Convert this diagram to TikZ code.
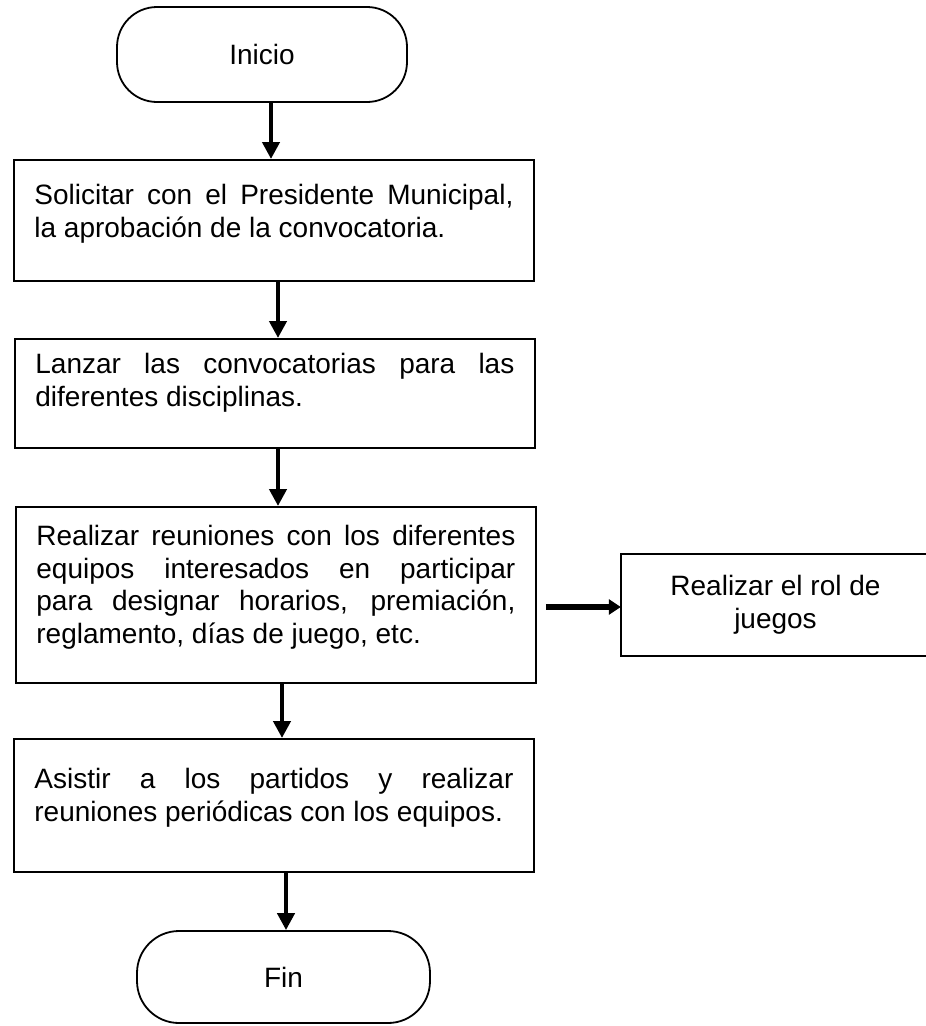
\documentclass[tikz,border=0pt]{standalone}
\usepackage{fontspec}
\setmainfont{Liberation Sans}
\usetikzlibrary{arrows.meta,calc}
\tikzset{
  basefont/.style={font=\fontsize{28}{32.5}\selectfont},
  mainbox/.style={basefont, draw, line width=1.8pt, anchor=north west,
    text width=479pt, inner xsep=20.5pt, inner ysep=0pt, align=justify},
  terminal/.style={basefont, draw, line width=1.8pt, rounded corners=40pt,
    inner sep=0pt, align=center},
  sidebox/.style={basefont, inner sep=0pt,
    align=center, minimum width=309pt, minimum height=102pt},
  boxline/.style={line width=1.8pt},
  varrow/.style={line width=4.2pt, -{Triangle[length=17pt,width=17pt]}},
  harrow/.style={line width=6pt, -{Triangle[length=12pt,width=15pt]}}
}
\begin{document}
\begin{tikzpicture}[x=1pt,y=-1pt]
\useasboundingbox[fill=white] (0,0) rectangle (926,1026);

\node[terminal, minimum width=290pt, minimum height=95pt] (ini) at (262,54.5) {Inicio};

\node[mainbox, text height=45pt, text depth=76pt] (b1) at (13,159)
  {Solicitar con el Presidente Municipal,\linebreak la aprobación de la convocatoria.};

\node[mainbox, text height=35pt, text depth=74pt] (b2) at (14,338)
  {Lanzar las convocatorias para las\linebreak diferentes disciplinas.};

\node[mainbox, text height=39pt, text depth=137pt] (b3) at (15,506)
  {Realizar reuniones con los diferentes\linebreak equipos interesados en participar\linebreak para designar horarios, premiación,\linebreak reglamento, días de juego, etc.};

\node[sidebox] (side) at (775.5,605) {Realizar el rol de\\juegos};
\draw[boxline] ($(side.south east)+(30,0)$) -- (side.south west) -- (side.north west) -- ($(side.north east)+(30,0)$);

\node[mainbox, text height=50pt, text depth=83pt] (b4) at (13,738)
  {Asistir a los partidos y realizar\linebreak reuniones periódicas con los equipos.};

\node[terminal, rounded corners=42pt, minimum width=293pt, minimum height=92pt] (fin) at (283.5,977) {Fin};

\coordinate (x1) at (271,0);
\coordinate (x2) at (278,0);
\coordinate (x3) at (278,0);
\coordinate (x4) at (282,0);
\coordinate (x5) at (286,0);
\coordinate (ys) at (0,607);

\draw[varrow] (ini.south -| x1) -- (b1.north -| x1);
\draw[varrow] (b1.south -| x2) -- (b2.north -| x2);
\draw[varrow] (b2.south -| x3) -- (b3.north -| x3);
\draw[varrow] (b3.south -| x4) -- (b4.north -| x4);
\draw[varrow] (b4.south -| x5) -- (fin.north -| x5);
\draw[harrow] ($(b3.east |- ys)+(9,0)$) -- (side.west |- ys);
\end{tikzpicture}
\end{document}
